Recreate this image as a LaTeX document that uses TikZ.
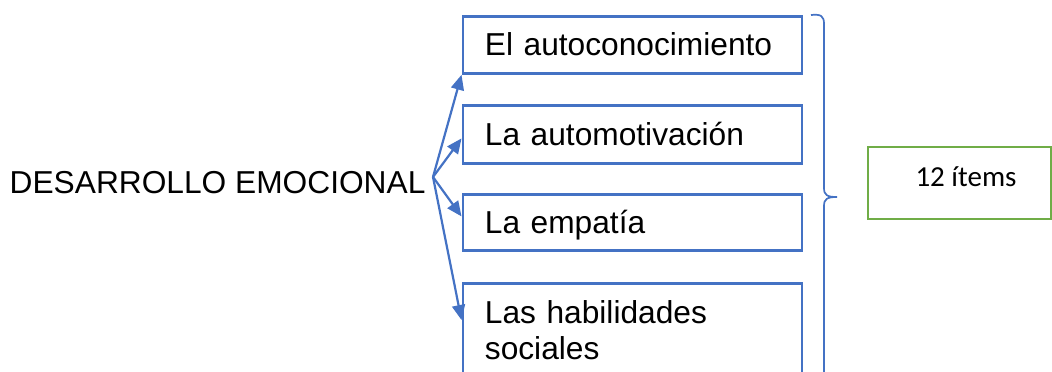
\documentclass[tikz,border=0pt]{standalone}
\usepackage{fontspec}
\setmainfont{Liberation Sans}
\newfontfamily\calibri{Carlito}
\usetikzlibrary{arrows.meta,calc}
\definecolor{wordblue}{HTML}{4472C4}
\definecolor{wordgreen}{HTML}{70AD47}
\begin{document}
\begin{tikzpicture}[x=1pt,y=-1pt,
  item/.style={draw=wordblue, line width=2.8pt, rectangle, text width=295pt,
    inner xsep=22pt, align=left, font=\fontsize{31.7}{36}\selectfont, anchor=north west},
  single/.style={minimum height=#1, text height=22pt, text depth=0pt, inner ysep=0pt},
  link/.style={draw=wordblue, line width=2.2pt, -{Triangle[length=15pt,width=13pt]}},
  bracepath/.style={draw=wordblue, line width=1.7pt},
  itemsbox/.style={draw=wordgreen, line width=2.5pt, minimum width=183pt, minimum height=72pt,
    inner sep=0pt, text height=19pt, text depth=13pt, font=\calibri\fontsize{29}{34}\selectfont}
 ]
\useasboundingbox (0,0) rectangle (1052,372);
\clip (0,0) rectangle (1052,372);

\node[anchor=base west, inner sep=0pt, font=\fontsize{31.7}{36}\selectfont] (main) at (9.5,193) {DESARROLLO EMOCIONAL};

\node[item, single=57pt] (box1) at (461.5,15) {El autoconocimiento};
\node[item, single=58pt] (box2) at (461.5,104) {La automotivación};
\node[item, single=56pt] (box3) at (461.5,193) {La empatía};
\node[item, inner ysep=17pt] (box4) at (461.5,282) {Las habilidades\\sociales\rule[-15pt]{0pt}{1pt}};

\coordinate (src) at (433,177);
\draw[link] (src) -- (box1.south west);
\draw[link] (src) -- ($(box2.west)+(0,4)$);
\draw[link] (src) -- ($(box3.west)+(0,-6)$);
\draw[link] (src) -- ($(box4.north west)+(0,38)$);

\coordinate (btop) at (811,15);
\coordinate (btip) at (837,197);
\coordinate (bbot) at (824,390);
\draw[bracepath] (btop) .. controls (821,14) and (824,16) .. (824,24) -- (824,188)
  .. controls (824,195) and (827,197) .. (btip)
  .. controls (827,197) and (824,199) .. (824,206) -- (bbot);

\node[itemsbox] (items) at (959.5,183) {\hspace*{13pt}12 ítems};
\end{tikzpicture}
\end{document}
